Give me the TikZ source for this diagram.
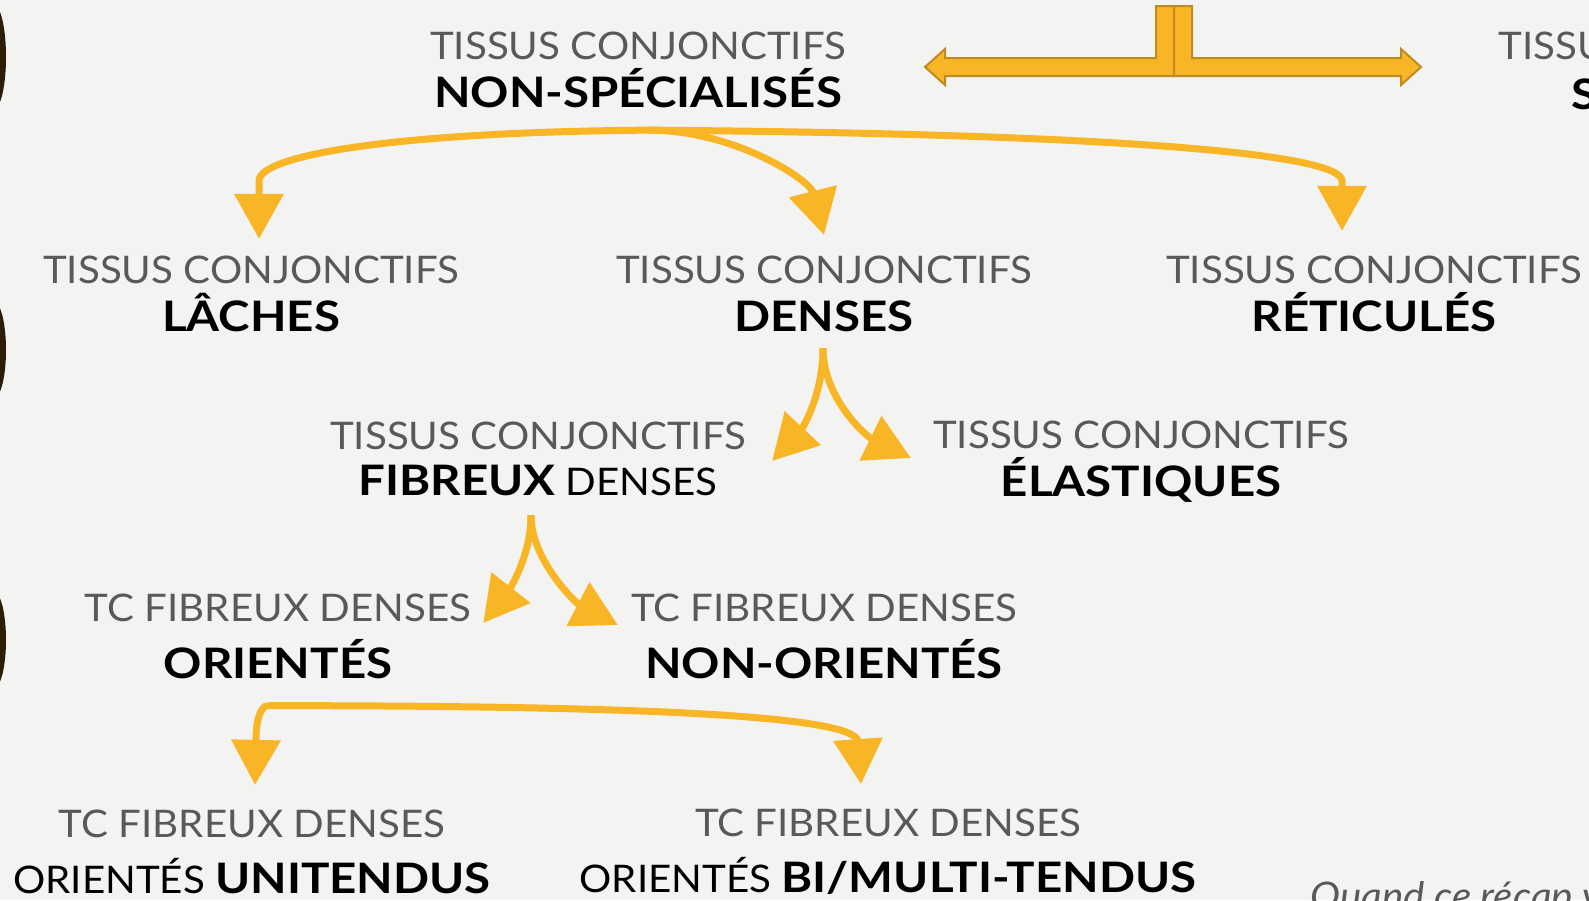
\documentclass[tikz,border=0pt]{standalone}
\usepackage{fontspec}
\setmainfont{Lato}[FakeStretch=1.06]
\newfontfamily\grasfont{Lato}[FakeStretch=1.13]
\usetikzlibrary{arrows.meta,calc}
\definecolor{fond}{HTML}{F3F3F1}
\definecolor{jaune}{HTML}{F8B526}
\definecolor{jaunefonce}{HTML}{BF8A1E}
\definecolor{gris}{HTML}{595959}
\definecolor{brun}{HTML}{2B1D08}
\newcommand{\gras}[1]{{\fontsize{42}{46}\grasfont\bfseries #1}}
\begin{document}
\begin{tikzpicture}[x=1pt, y=-1pt,
    tissu/.style={align=center, inner sep=0pt, font=\fontsize{38}{46}\selectfont},
    fleche/.style={draw=jaune, line width=7pt, -{Triangle[width=48pt,length=45pt]}},
    bloc/.style={fill=jaune, draw=jaunefonce, line width=2pt}]
\useasboundingbox (0,0) rectangle (1589,900);
\clip (0,0) rectangle (1589,900);
\fill[fond] (0,0) rectangle (1589,900);

% bords gauches
\fill[brun] (-6,57) ellipse [x radius=12pt, y radius=52pt];
\fill[brun] (-6,350) ellipse [x radius=12pt, y radius=48pt];
\fill[brun] (-6,640) ellipse [x radius=12pt, y radius=48pt];

% double fleche du haut
\draw[bloc] (1174,6) -- (1156,6) -- (1156,58) -- (945,58) -- (945,49) -- (925,67)
    -- (945,85) -- (945,76) -- (1174,76) -- cycle;
\draw[bloc] (1174,6) -- (1192,6) -- (1192,58) -- (1401,58) -- (1401,49) -- (1421,67)
    -- (1401,85) -- (1401,76) -- (1174,76) -- cycle;

\node (nonspec) [tissu] at (638,70) {\textcolor{gris}{TISSUS CONJONCTIFS}\\[2pt]\gras{NON-SPÉCIALISÉS}};
\node (speca) [tissu, anchor=west] at (1498,46) {\textcolor{gris}{TISSU}};
\node (specb) [tissu, anchor=west] at (1571,94) {\gras{S}};

\node (laches) [tissu] at (251,294) {\textcolor{gris}{TISSUS CONJONCTIFS}\\[2pt]\gras{LÂCHES}};
\node (denses) [tissu] at (824,294) {\textcolor{gris}{TISSUS CONJONCTIFS}\\[2pt]\gras{DENSES}};
\node (reticules) [tissu] at (1374,294) {\textcolor{gris}{TISSUS CONJONCTIFS}\\[2pt]\gras{RÉTICULÉS}};

\node (fibreux) [tissu] at (538,459) {\textcolor{gris}{TISSUS CONJONCTIFS}\\\gras{FIBREUX} DENSES};
\node (elastiques) [tissu] at (1141,462) {\textcolor{gris}{TISSUS CONJONCTIFS}\\[2pt]\gras{ÉLASTIQUES}};

\node (orientes) [tissu] at (278,636) {\textcolor{gris}{TC FIBREUX DENSES}\\[11pt]\gras{ORIENTÉS}};
\node (nonorient) [tissu] at (824,636) {\textcolor{gris}{TC FIBREUX DENSES}\\[11pt]\gras{NON-ORIENTÉS}};

\node (unitend) [tissu] at (252,852) {\textcolor{gris}{TC FIBREUX DENSES}\\[10pt]ORIENTÉS \gras{UNITENDUS}};
\node (bitend) [tissu] at (888,852) {\textcolor{gris}{TC FIBREUX DENSES}\\[10pt]ORIENTÉS \gras{BI/MULTI-TENDUS}};

\node (recap) [tissu, anchor=north west, text=gris] at (1310,881) {\itshape Quand ce récap v};

\coordinate (splitns) at ($(nonspec.south)+(11,22)$);
\coordinate (splitde) at ($(denses.south)+(-1,16)$);
\coordinate (splitfi) at ($(fibreux.south)+(-7,19)$);
\coordinate (splitor) at ($(orientes.south)+(-10,27)$);

\draw[fleche] (splitns) .. controls +(-260,2) and +(0,-25) .. ($(laches.north)+(8,-75)$) -- ($(laches.north)+(8,-17)$);
\draw[fleche] (splitns) .. controls +(85,0) and +(-14,-55) .. ($(denses.north)+(0,-21)$);
\draw[fleche] (splitns) .. controls +(500,4) and +(0,-25) .. ($(reticules.north)+(-32,-75)$) -- ($(reticules.north)+(-32,-25)$);

\draw[fleche] (splitde) .. controls +(0,50) and +(28,-30) .. ($(fibreux.east)+(26,2)$);
\draw[fleche] (splitde) .. controls +(0,50) and +(-45,-22) .. ($(elastiques.west)+(-22,-4)$);

\draw[fleche] (splitfi) .. controls +(0,45) and +(22,-28) .. ($(orientes.east)+(12,-13)$);
\draw[fleche] (splitfi) .. controls +(0,45) and +(-42,-22) .. ($(nonorient.west)+(-13,-11)$);

\draw[fleche] (splitor) .. controls +(-8,0) and +(0,-15) .. ($(unitend.north)+(4,-72)$) -- ($(unitend.north)+(3,-25)$);
\draw[fleche] (splitor) .. controls +(380,0) and +(-5,-25) .. ($(bitend.north)+(-30,-68)$) -- ($(bitend.north)+(-27,-25)$);
\end{tikzpicture}
\end{document}
